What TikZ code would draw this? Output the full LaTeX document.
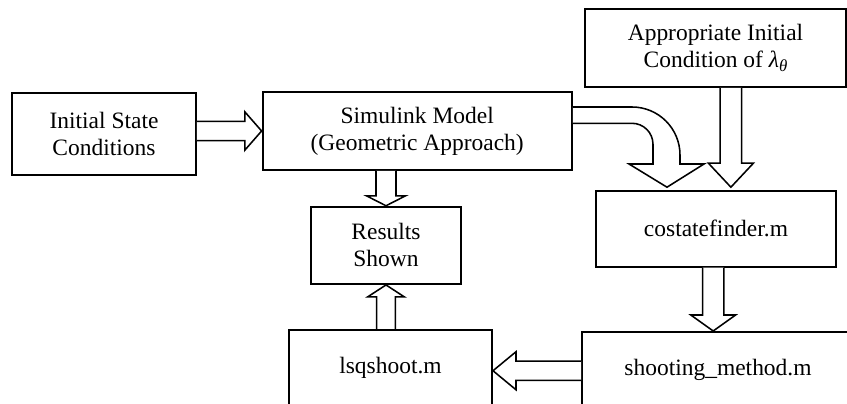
\documentclass[tikz,border=0pt]{standalone}
\usepackage{fontspec}
\setmainfont{Liberation Serif}
\usetikzlibrary{calc}

% hollow block arrow: from, to, half shaft width, half head width, head length
\newcommand{\fatarrow}[5]{%
	\coordinate (fa-s) at (#1);
	\coordinate (fa-t) at (#2);
	\coordinate (fa-b) at ($(fa-t)!#5!(fa-s)$);
	\draw[fatarrow] ($(fa-s)!#3!90:(fa-t)$) -- ($(fa-b)!#3!90:(fa-t)$) -- ($(fa-b)!#4!90:(fa-t)$) -- (fa-t)
		-- ($(fa-b)!#4!-90:(fa-t)$) -- ($(fa-b)!#3!-90:(fa-t)$) -- ($(fa-s)!#3!-90:(fa-t)$);
}

\begin{document}
\begin{tikzpicture}
		\tikzset{box/.style = {shape=rectangle,draw,line width=1.4pt,inner sep=0pt,align=center,font=\fontsize{16.7}{19.2}\selectfont}}
		\tikzset{openbox/.style = {box,anchor=north,text height=1.1cm,text depth=1.6cm}}
		\tikzset{fatarrow/.style = {draw,fill=white,line width=1.1pt,line join=miter}}
		\path[use as bounding box,clip] (0,0) rectangle (21.175,10.1);
		\node[box,minimum width=4.6cm,minimum height=2.05cm] (init) at (2.6,6.75) {Initial State\\Conditions};
		\node[box,minimum width=7.73cm,minimum height=1.95cm] (sim) at (10.43,6.825) {Simulink Model\\(Geometric Approach)};
		\node[box,minimum width=6.525cm,minimum height=1.95cm] (app) at (17.8875,8.9) {Appropriate Initial\\Condition of \textit{λ}\raisebox{-0.35ex}{\fontsize{12}{12}\selectfont\textit{θ}}};
		\node[box,minimum width=6cm,minimum height=1.9cm] (cost) at (17.9,4.3825) {costatefinder.m};
		\node[box,minimum width=3.75cm,minimum height=1.93cm] (res) at (9.65,3.966) {Results\\Shown};
		\node[openbox,minimum width=5.075cm] (lsq) at (9.7625,1.875) {lsqshoot.m};
		\node[openbox,minimum width=6.8cm] (shoot) at (17.95,1.825) {shooting\_method.m};
		\coordinate (c1) at ($(cost.south)+(-0.07,0)$);
		\coordinate (c2) at ($(app.south)+(0.385,0)$);
		\coordinate (tip) at (16.675,5.42);
		\fatarrow{init.east |- sim.west}{sim.west}{0.24cm}{0.48cm}{0.42cm}
		\fatarrow{sim.south -| res.north}{res.north}{0.25cm}{0.49cm}{0.25cm}
		\fatarrow{lsq.north -| res.south}{res.south}{0.235cm}{0.46cm}{0.3cm}
		\fatarrow{shoot.west |- lsq.mid east}{lsq.mid east}{0.24cm}{0.475cm}{0.575cm}
		\fatarrow{c1}{c1 |- shoot.north}{0.266cm}{0.56cm}{0.4cm}
		\fatarrow{c2}{c2 |- tip}{0.27cm}{0.5625cm}{0.6cm}
		\draw[fatarrow] ($(sim.east)+(0,0.6)$) -- (15.8,7.425) arc[start angle=90,end angle=0,radius=1.2cm] -- (17,6)
			-- (17.6,6) -- (tip) -- (15.725,6) -- (16.325,6) -- (16.325,6.4925)
			arc[start angle=0,end angle=90,radius=0.525cm] -- ($(sim.east)+(0,0.1925)$);
	\end{tikzpicture}
\end{document}
